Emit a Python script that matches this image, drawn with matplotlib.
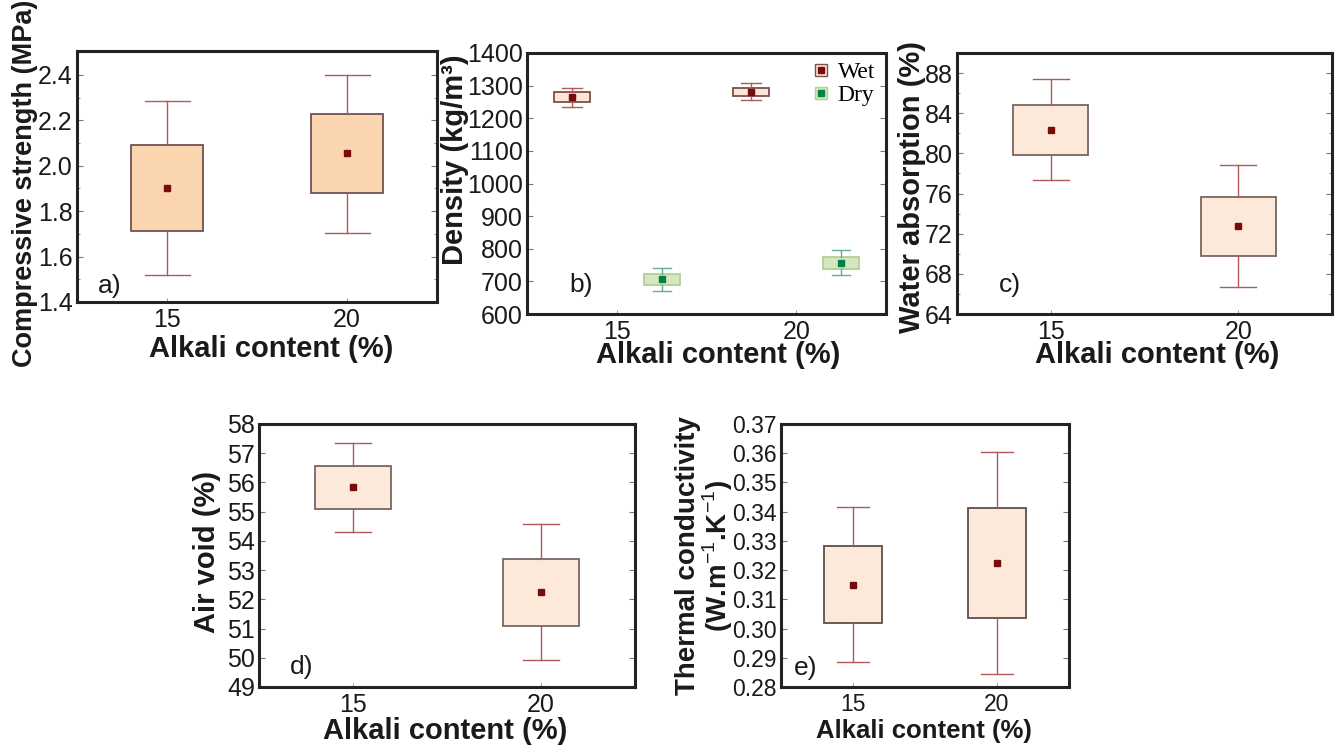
import matplotlib
matplotlib.use("Agg")
import matplotlib.pyplot as plt
from matplotlib.lines import Line2D
from matplotlib.ticker import MultipleLocator, FormatStrFormatter

plt.rcParams['font.family'] = ['Liberation Sans', 'DejaVu Sans']
plt.rcParams['mathtext.fontset'] = 'custom'
plt.rcParams['mathtext.rm'] = 'Liberation Sans'
plt.rcParams['mathtext.bf'] = 'Liberation Sans:bold'

# ---- data -----------------------------------------------------------------
alkali = [15, 20]

cs_mean = [1.900, 2.054]
cs_q1 = [1.713, 1.881]
cs_q3 = [2.093, 2.226]
cs_lo = [1.518, 1.704]
cs_hi = [2.286, 2.400]

wet_mean = [1266, 1281]
wet_q1 = [1251, 1268]
wet_q3 = [1280, 1293]
wet_lo = [1236, 1256]
wet_hi = [1294, 1307]

dry_mean = [707, 756]
dry_q1 = [688, 738]
dry_q3 = [723, 775]
dry_lo = [670, 719]
dry_hi = [742, 795]

wa_mean = [82.3, 72.8]
wa_q1 = [79.8, 69.8]
wa_q3 = [84.8, 75.7]
wa_lo = [77.3, 66.7]
wa_hi = [87.4, 78.8]

av_mean = [55.83, 52.25]
av_q1 = [55.08, 51.08]
av_q3 = [56.56, 53.39]
av_lo = [54.32, 49.92]
av_hi = [57.35, 54.57]

tc_mean = [0.3150, 0.3225]
tc_q1 = [0.3018, 0.3036]
tc_q3 = [0.3283, 0.3413]
tc_lo = [0.2885, 0.2844]
tc_hi = [0.3417, 0.3604]

# ---- figure ---------------------------------------------------------------
W, H = 1335, 753
fig = plt.figure(figsize=(W / 100, H / 100), dpi=100)


def px_axes(x0, y0, x1, y1):
    return fig.add_axes([x0 / W, 1 - y1 / H, (x1 - x0) / W, (y1 - y0) / H])


def px_text(x, y, s, **kw):
    fig.text(x / W, 1 - y / H, s, ha='center', va='center', **kw)


SPINE = '#232323'
MEAN_RED = '#7a0b0b'


def style_axes(ax, ylim, major, minor, fmt, tick_size=18):
    ax.set_xlim(12.5, 22.5)
    ax.set_ylim(*ylim)
    ax.set_xticks(alkali)
    ax.set_xticklabels([str(a) for a in alkali])
    ax.yaxis.set_major_locator(MultipleLocator(major))
    if minor:
        ax.yaxis.set_minor_locator(MultipleLocator(minor))
    ax.yaxis.set_major_formatter(FormatStrFormatter(fmt))
    for s in ax.spines.values():
        s.set_linewidth(2.2)
        s.set_color(SPINE)
    ax.tick_params(axis='y', which='major', direction='in', length=4, width=0.8,
                   color='#777777', left=True, right=True, labelsize=tick_size,
                   pad=3, labelcolor='#1a1a1a')
    ax.tick_params(axis='y', which='minor', direction='in', length=2.5, width=0.7,
                   color='#888888', left=True, right=True)
    ax.tick_params(axis='x', which='major', direction='in', length=3, width=0.7,
                   color='#999999', labelsize=tick_size, pad=4, labelcolor='#1a1a1a')


def draw_boxes(ax, positions, mean, q1, q3, lo, hi, width, capw,
               face, edge, whisk, mean_color, ms=4.3):
    stats = []
    for m, a, b, l, h in zip(mean, q1, q3, lo, hi):
        stats.append(dict(med=m, mean=m, q1=a, q3=b, whislo=l, whishi=h, fliers=[]))
    ax.bxp(stats, positions=positions, widths=width, capwidths=capw,
           patch_artist=True, showmeans=True, showfliers=False,
           boxprops=dict(facecolor=face, edgecolor=edge, linewidth=1.3),
           whiskerprops=dict(color=whisk, linewidth=1.0),
           capprops=dict(color=whisk, linewidth=1.0),
           medianprops=dict(linewidth=0),
           meanprops=dict(marker='s', markersize=ms, markerfacecolor=mean_color,
                          markeredgecolor=mean_color),
           manage_ticks=False)


XL = dict(fontsize=21, fontweight='bold', color='#1a1a1a')
YL = dict(fontweight='bold', color='#1a1a1a', rotation=90)
PL = dict(fontsize=19, color='#1a1a1a')

# a) compressive strength
ax = px_axes(77, 51, 437, 302)
draw_boxes(ax, alkali, cs_mean, cs_q1, cs_q3, cs_lo, cs_hi, 2.0, 1.25,
           '#fbd5b0', '#6e5250', '#b05a5a', MEAN_RED)
style_axes(ax, (1.4, 2.505), 0.2, 0.1, '%.1f')
ax.text(13.4, 1.47, 'a)', ha='center', va='center', **PL)
px_text(25, 183, 'Compressive strength (MPa)', fontsize=19.5, **YL)
px_text(271, 349, 'Alkali content (%)', **XL)

# b) density, wet and dry
ax = px_axes(527, 53, 886, 314)
wet_pos = [a - 1.25 for a in alkali]
dry_pos = [a + 1.25 for a in alkali]
draw_boxes(ax, wet_pos, wet_mean, wet_q1, wet_q3, wet_lo, wet_hi, 1.0, 0.56,
           '#fde5d8', '#7e5048', '#b05a5a', MEAN_RED)
draw_boxes(ax, dry_pos, dry_mean, dry_q1, dry_q3, dry_lo, dry_hi, 1.0, 0.5,
           '#d6e7bf', '#b3d096', '#62b08e', '#00834a')
style_axes(ax, (600, 1400), 100, None, '%d')
ax.text(14.0, 690, 'b)', ha='center', va='center', **PL)
wet_handle = (Line2D([], [], ls='none', marker='s', markersize=9,
                     markerfacecolor='#fde5d8', markeredgecolor='#7e5048', markeredgewidth=1),
              Line2D([], [], ls='none', marker='s', markersize=5,
                     markerfacecolor=MEAN_RED, markeredgecolor=MEAN_RED))
dry_handle = (Line2D([], [], ls='none', marker='s', markersize=9,
                     markerfacecolor='#d6e7bf', markeredgecolor='#b3d096', markeredgewidth=1),
              Line2D([], [], ls='none', marker='s', markersize=5,
                     markerfacecolor='#00834a', markeredgecolor='#00834a'))
ax.legend([wet_handle, dry_handle], ['Wet', 'Dry'], loc='upper left',
          bbox_to_anchor=(0.78, 0.985), frameon=False, borderpad=0.2,
          borderaxespad=0, handlelength=0.8, handletextpad=0.3, labelspacing=0.05,
          prop={'family': 'Liberation Serif', 'size': 17})
px_text(455, 160, 'Density (kg/m³)', fontsize=21, **YL)
px_text(718, 355, 'Alkali content (%)', **XL)

# c) water absorption
ax = px_axes(957, 53, 1332, 314)
draw_boxes(ax, alkali, wa_mean, wa_q1, wa_q3, wa_lo, wa_hi, 2.0, 0.95,
           '#fde9da', '#7a6662', '#b05a5a', MEAN_RED)
style_axes(ax, (64, 90), 4, 2, '%d')
ax.text(13.92, 66.9, 'c)', ha='center', va='center', **PL)
px_text(912, 187, 'Water absorption (%)', fontsize=21, **YL)
px_text(1157, 355, 'Alkali content (%)', **XL)

# d) air void
ax = px_axes(259, 424, 635, 687)
draw_boxes(ax, alkali, av_mean, av_q1, av_q3, av_lo, av_hi, 2.0, 0.97,
           '#fde9da', '#7a6662', '#b05a5a', MEAN_RED)
style_axes(ax, (49, 58), 1, None, '%d')
ax.text(13.64, 49.68, 'd)', ha='center', va='center', **PL)
px_text(207, 552, 'Air void (%)', fontsize=21, **YL)
px_text(445, 731, 'Alkali content (%)', **XL)

# e) thermal conductivity
ax = px_axes(781, 424, 1069, 687)
draw_boxes(ax, alkali, tc_mean, tc_q1, tc_q3, tc_lo, tc_hi, 2.0, 1.08,
           '#fde9da', '#5e4e4c', '#b05a5a', MEAN_RED)
style_axes(ax, (0.28, 0.37), 0.01, None, '%.2f', tick_size=16.5)
ax.text(13.37, 0.2866, 'e)', ha='center', va='center', **PL)
px_text(705, 556, 'Thermal conductivity\n(W.m$^{-1}$.K$^{-1}$)', fontsize=20,
        linespacing=1.0, **YL)
px_text(924, 731, 'Alkali content (%)', fontsize=18.5, fontweight='bold', color='#1a1a1a')

fig.savefig('out.png', dpi=100)
